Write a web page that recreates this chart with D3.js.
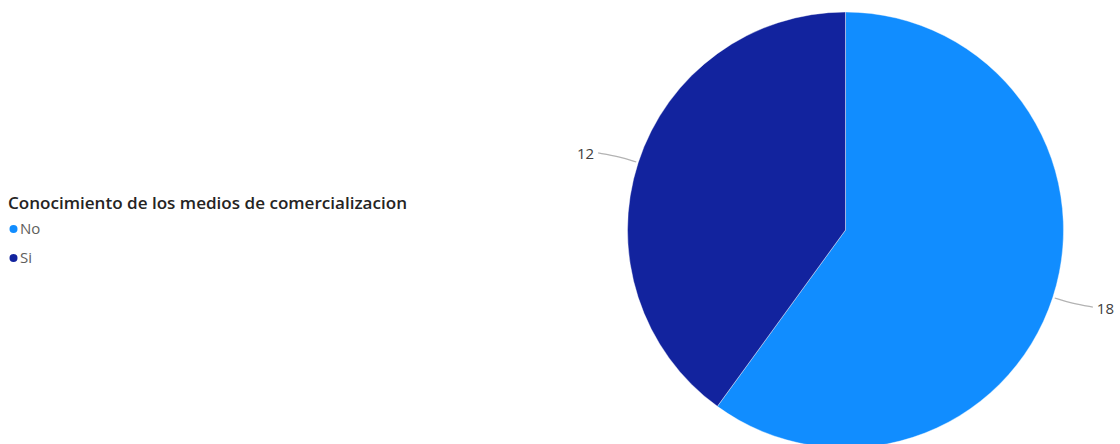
<!DOCTYPE html>
<html>
<head>
<meta charset="utf-8">
<script src="https://cdn.jsdelivr.net/npm/d3@7"></script>
<style>
  html, body { margin: 0; padding: 0; background: #fff; }
  svg { display: block; }
</style>
</head>
<body>
<svg id="chart" width="1120" height="444"></svg>
<script>
// Data
const categories = ["No", "Si"];
const values = [18, 12];
const colors = ["#118DFF", "#12239E"];
const legendTitle = "Conocimiento de los medios de comercializacion";

const svg = d3.select("#chart");
const cx = 845.5, cy = 230, radius = 218;

const pie = d3.pie().sort(null).value(d => d.value);
const arcs = pie(categories.map((c, i) => ({ name: c, value: values[i] })));
const arc = d3.arc().innerRadius(0).outerRadius(radius);
const color = d3.scaleOrdinal().domain(categories).range(colors);

const g = svg.append("g").attr("transform", `translate(${cx},${cy})`);

g.selectAll("path.slice")
  .data(arcs)
  .join("path")
  .attr("class", "slice")
  .attr("d", arc)
  .attr("fill", d => color(d.data.name))
  .attr("stroke", "#fff")
  .attr("stroke-width", 0.4);

// Leader lines and value labels
const pointAt = (angle, r) => [Math.sin(angle) * r, -Math.cos(angle) * r];

arcs.forEach(d => {
  const mid = (d.startAngle + d.endAngle) / 2;
  const right = Math.sin(mid) > 0;
  const p0 = pointAt(mid, radius + 2);
  const p1 = pointAt(mid, radius + 20);
  const p2 = [p1[0] + (right ? 21 : -21), p1[1] + (right ? 3.5 : -3.5)];
  g.append("path")
    .attr("d", d3.line().curve(d3.curveBasis)([p0, p1, p2]))
    .attr("fill", "none")
    .attr("stroke", "#b3b3b3")
    .attr("stroke-width", 1.2);
  g.append("text")
    .attr("x", p2[0] + (right ? 4 : -4))
    .attr("y", p2[1] + (right ? 2 : 1))
    .attr("dy", "0.35em")
    .attr("text-anchor", right ? "start" : "end")
    .attr("font-family", "'Open Sans', 'DejaVu Sans', sans-serif")
    .attr("font-size", 15)
    .attr("fill", "#404040")
    .text(d.data.value);
});

// Legend
const legend = svg.append("g").attr("transform", "translate(8,0)");
legend.append("text")
  .attr("x", 0)
  .attr("y", 209)
  .attr("font-family", "'Open Sans', 'DejaVu Sans', sans-serif")
  .attr("font-weight", 600)
  .attr("font-size", 15.5)
  .attr("fill", "#252423")
  .attr("textLength", 399)
  .attr("lengthAdjust", "spacingAndGlyphs")
  .text(legendTitle);

const items = legend.selectAll("g.item")
  .data(categories)
  .join("g")
  .attr("class", "item")
  .attr("transform", (d, i) => `translate(0, ${229 + i * 29})`);

items.append("circle")
  .attr("cx", 5.5)
  .attr("cy", 0)
  .attr("r", 4)
  .attr("fill", d => color(d));

items.append("text")
  .attr("x", 12)
  .attr("y", 0)
  .attr("dy", "0.36em")
  .attr("font-family", "'Open Sans', 'DejaVu Sans', sans-serif")
  .attr("font-size", 15)
  .attr("fill", "#605E5C")
  .text(d => d);
</script>
</body>
</html>
